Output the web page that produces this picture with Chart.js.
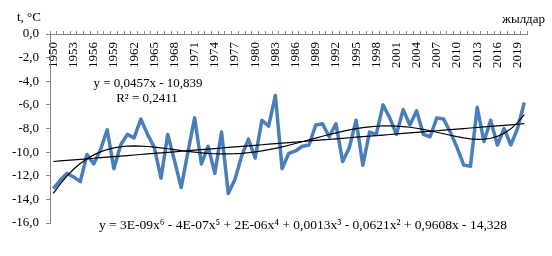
<!DOCTYPE html>
<html>
<head>
<meta charset="utf-8">
<script src="https://cdn.jsdelivr.net/npm/chart.js@4"></script>
<style>
  html, body { margin: 0; padding: 0; background: #fff; }
</style>
</head>
<body>
<canvas id="tempChart" width="552" height="256"></canvas>
<script>
// years on the category axis
const years = [
  1950, 1951, 1952, 1953, 1954, 1955, 1956, 1957, 1958, 1959,
  1960, 1961, 1962, 1963, 1964, 1965, 1966, 1967, 1968, 1969,
  1970, 1971, 1972, 1973, 1974, 1975, 1976, 1977, 1978, 1979,
  1980, 1981, 1982, 1983, 1984, 1985, 1986, 1987, 1988, 1989,
  1990, 1991, 1992, 1993, 1994, 1995, 1996, 1997, 1998, 1999,
  2000, 2001, 2002, 2003, 2004, 2005, 2006, 2007, 2008, 2009,
  2010, 2011, 2012, 2013, 2014, 2015, 2016, 2017, 2018, 2019,
  2020
];
// mean temperature, °C
const temps = [
  -13.1, -12.4, -11.8, -12.1, -12.5, -10.2, -11.0, -9.8, -8.1, -11.4,
  -9.4, -8.5, -8.8, -7.2, -8.5, -9.6, -12.2, -8.5, -10.7, -13.0,
  -10.0, -7.1, -11.0, -9.5, -11.8, -8.3, -13.5, -12.3, -10.3, -8.9,
  -10.5, -7.3, -7.8, -5.2, -11.4, -10.1, -9.9, -9.5, -9.4, -7.7,
  -7.6, -8.7, -7.6, -10.8, -9.6, -7.3, -11.1, -8.3, -8.5, -6.0,
  -7.1, -8.5, -6.4, -7.7, -6.5, -8.5, -8.7, -7.1, -7.2, -8.3,
  -9.6, -11.1, -11.2, -6.2, -9.1, -7.3, -9.4, -8.0, -9.4, -8.0,
  -5.8
];
const labelStep = 3;          // every 3rd year is labelled
const yMin = -16, yMax = 0, yStep = 2;

// trend line printed on the chart: y = 0,0457x - 10,839
const linSlope = 0.0457, linIntercept = -10.839;
const linText = 'y = 0,0457x - 10,839';
const r2Text = 'R² = 0,2411';
const polyText = 'y = 3E-09x⁶ - 4E-07x⁵ + 2E-06x⁴ + 0,0013x³ - 0,0621x² + 0,9608x - 14,328';

const linTrend = temps.map((_, i) => linSlope * (i + 1) + linIntercept);

// 6th order least squares fit (x scaled to -1..1 to keep it stable)
function polyFit(ys, deg) {
  const n = ys.length, m = deg + 1;
  const sx = t => (t + 1 - (n + 1) / 2) / ((n - 1) / 2);
  const A = Array.from({length: m}, () => new Array(m + 1).fill(0));
  for (let i = 0; i < n; i++) {
    const t = sx(i);
    const p = [];
    for (let k = 0; k < m; k++) p.push(Math.pow(t, k));
    for (let r = 0; r < m; r++) {
      for (let c = 0; c < m; c++) A[r][c] += p[r] * p[c];
      A[r][m] += p[r] * ys[i];
    }
  }
  for (let col = 0; col < m; col++) {
    let piv = col;
    for (let r = col + 1; r < m; r++) if (Math.abs(A[r][col]) > Math.abs(A[piv][col])) piv = r;
    [A[col], A[piv]] = [A[piv], A[col]];
    for (let r = 0; r < m; r++) {
      if (r === col) continue;
      const f = A[r][col] / A[col][col];
      for (let c = col; c <= m; c++) A[r][c] -= f * A[col][c];
    }
  }
  const coef = A.map((row, r) => row[m] / row[r]);
  return ys.map((_, i) => {
    const t = sx(i);
    let s = 0;
    for (let k = 0; k < m; k++) s += coef[k] * Math.pow(t, k);
    return s;
  });
}
const polyTrend = polyFit(temps, 6);

const serif = '"Liberation Serif", "Times New Roman", serif';

// captions and equations
const notes = {
  id: 'notes',
  afterDraw(chart) {
    const c = chart.ctx;
    c.save();
    c.fillStyle = '#000';
    c.font = '13px ' + serif;
    c.textBaseline = 'alphabetic';
    c.textAlign = 'left';
    c.fillText('t, °C', 17, 21);
    c.textAlign = 'right';
    c.fillText('жылдар', 545, 22.5);
    c.textAlign = 'center';
    c.fillText(linText, 148, 87);
    c.fillText(r2Text, 147, 101.5);
    c.font = '13.5px ' + serif;
    c.fillText(polyText, 303, 229);
    c.restore();
  }
};

const ctx = document.getElementById('tempChart').getContext('2d');
const myChart = new Chart(ctx, {
  type: 'line',
  data: {
    labels: years,
    datasets: [{
      label: 't',
      data: temps,
      borderColor: '#4a7ebb',
      borderWidth: 3.5,
      borderJoinStyle: 'round',
      pointRadius: 0,
      fill: false,
      order: 3
    }, {
      label: 'linear',
      data: linTrend,
      borderColor: '#000',
      borderWidth: 1.2,
      pointRadius: 0,
      fill: false,
      order: 2
    }, {
      label: 'poly',
      data: polyTrend,
      borderColor: '#000',
      borderWidth: 1.2,
      pointRadius: 0,
      fill: false,
      order: 1
    }]
  },
  options: {
    responsive: false,
    animation: false,
    devicePixelRatio: 1,
    layout: { padding: { left: 0, right: 16, top: 34, bottom: 33 } },
    plugins: {
      legend: { display: false },
      tooltip: { enabled: false }
    },
    scales: {
      x: {
        type: 'category',
        position: { y: 0 },
        offset: true,
        grid: { drawOnChartArea: false, offset: true, tickLength: -4, color: '#868686' },
        border: { color: '#868686' },
        ticks: {
          autoSkip: false,
          minRotation: 90,
          maxRotation: 90,
          padding: 12,
          color: '#000',
          font: { family: serif, size: 13 },
          callback: (v, i) => (i % labelStep === 0 ? years[i] : '')
        }
      },
      y: {
        min: yMin,
        max: yMax,
        afterFit: s => { s.width = 50; },
        grid: { drawOnChartArea: false, tickLength: 4, color: '#868686' },
        border: { color: '#868686' },
        ticks: {
          stepSize: yStep,
          padding: 7,
          color: '#000',
          font: { family: serif, size: 13 },
          callback: v => v.toFixed(1).replace('.', ',')
        }
      }
    }
  },
  plugins: [notes]
});
</script>
</body>
</html>
